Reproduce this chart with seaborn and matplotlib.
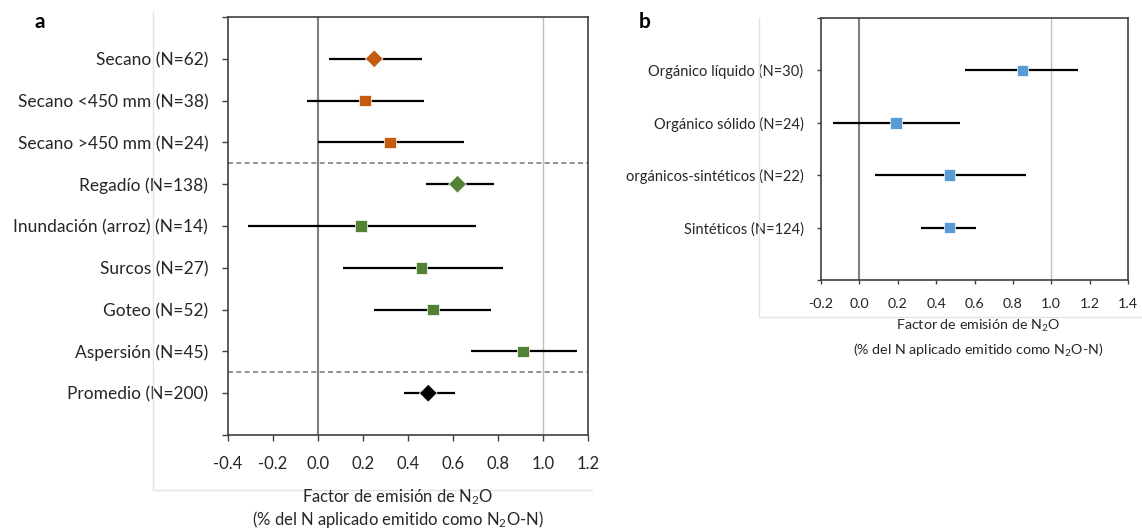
import numpy as np
import pandas as pd
import matplotlib.pyplot as plt
from matplotlib.lines import Line2D
import seaborn as sns

# --- datos panel a (sistema de riego) ---
cats_a = ['Secano (N=62)', 'Secano <450 mm (N=38)', 'Secano >450 mm (N=24)',
          'Regadío (N=138)', 'Inundación (arroz) (N=14)', 'Surcos (N=27)',
          'Goteo (N=52)', 'Aspersión (N=45)', 'Promedio (N=200)']
ef_a = [0.25, 0.21, 0.32, 0.62, 0.19, 0.46, 0.51, 0.91, 0.49]
lo_a = [0.05, -0.05, 0.00, 0.48, -0.31, 0.11, 0.25, 0.68, 0.38]
hi_a = [0.46, 0.47, 0.65, 0.78, 0.70, 0.82, 0.77, 1.15, 0.61]
grupo_a = ['secano', 'secano', 'secano', 'regadio', 'regadio', 'regadio',
           'regadio', 'regadio', 'promedio']
forma_a = ['D', 's', 's', 'D', 's', 's', 's', 's', 'D']

# --- datos panel b (tipo de fertilizante) ---
cats_b = ['Orgánico líquido (N=30)', 'Orgánico sólido (N=24)',
          'orgánicos-sintéticos (N=22)', 'Sintéticos (N=124)']
ef_b = [0.85, 0.19, 0.47, 0.47]
lo_b = [0.55, -0.135, 0.08, 0.32]
hi_b = [1.14, 0.525, 0.87, 0.61]
grupo_b = ['fert'] * 4
forma_b = ['s'] * 4

colores = {'secano': '#C55A11', 'regadio': '#548235', 'promedio': 'black',
           'fert': '#5B9BD5'}
tamanos = {'s': 70, 'D': 82}

sns.set_style('white')
plt.rcParams['font.family'] = ['Lato', 'DejaVu Sans']
plt.rcParams['mathtext.fontset'] = 'custom'
plt.rcParams['mathtext.rm'] = 'Lato'
plt.rcParams['mathtext.it'] = 'Lato'
plt.rcParams['text.color'] = '#262626'

W, H = 1142, 529
fig = plt.figure(figsize=(W / 100, H / 100), dpi=100)


def px_axes(x0, y0, x1, y1):
    return fig.add_axes([x0 / W, 1 - y1 / H, (x1 - x0) / W, (y1 - y0) / H])


def forest(ax, cats, ef, lo, hi, grupo, forma, xlim, fs, yfs, tlen, ypad, xpad):
    df = pd.DataFrame({'cat': cats, 'ef': ef, 'lo': lo, 'hi': hi,
                       'grupo': grupo, 'forma': forma})
    df['pos'] = np.arange(1, len(df) + 1)
    ax.axvline(0, color='#808080', lw=1.5, zorder=1)
    ax.axvline(1.0, color='#BFBFBF', lw=1.0, zorder=1)
    ax.hlines(df['pos'], df['lo'], df['hi'], color='black', lw=1.6, zorder=2)
    for f in ['s', 'D']:
        sub = df[df['forma'] == f]
        if len(sub) == 0:
            continue
        sns.scatterplot(data=sub, x='ef', y='pos', hue='grupo', palette=colores,
                        marker=f, s=tamanos[f], edgecolor='white', linewidth=0.5,
                        legend=False, ax=ax, zorder=3)
    ticks = np.arange(xlim[0], xlim[1] + 0.01, 0.2)
    ax.set_xlim(*xlim)
    ax.set_ylim(len(df) + 1, 0)
    ax.set_xticks(ticks)
    ax.set_xticklabels([f'{v:.1f}' for v in ticks])
    ax.set_yticks(df['pos'])
    ax.set_yticklabels(df['cat'])
    ax.set_yticks([0, len(df) + 1], minor=True)
    ax.set_xlabel('')
    ax.set_ylabel('')
    for s in ax.spines.values():
        s.set_visible(True)
        s.set_color('#404040')
        s.set_linewidth(1.2)
    ax.tick_params(axis='y', which='both', length=tlen, width=1, color='#404040',
                   direction='out', pad=ypad, labelsize=yfs, left=True)
    ax.tick_params(axis='x', length=tlen, width=1, color='#404040',
                   direction='out', pad=xpad, labelsize=fs, bottom=True)
    return df


# panel a
ax_a = px_axes(228, 17, 588, 435)
forest(ax_a, cats_a, ef_a, lo_a, hi_a, grupo_a, forma_a, (-0.4, 1.2), 12, 12.5,
       4.3, 10, 10.5)
for yy in [3.5, 8.5]:
    ax_a.axhline(yy, color='#808080', lw=1.2, ls=(0, (3, 2)), zorder=1)

# panel b
ax_b = px_axes(821, 18, 1128, 280)
forest(ax_b, cats_b, ef_b, lo_b, hi_b, grupo_b, forma_b, (-0.2, 1.4), 10.3, 10.5,
       3, 9.6, 9.6)

# titulos de eje
fig.text(398 / W, 1 - 497 / H, 'Factor de emisión de N$_2$O', ha='center',
         va='center', fontsize=12)
fig.text(398 / W, 1 - 520 / H, '(% del N aplicado emitido como N$_2$O-N)',
         ha='center', va='center', fontsize=12)
fig.text(978 / W, 1 - 326 / H, 'Factor de emisión de N$_2$O', ha='center',
         va='center', fontsize=10.3)
fig.text(978 / W, 1 - 350 / H, '(% del N aplicado emitido como N$_2$O-N)',
         ha='center', va='center', fontsize=10.3)

# letras de panel
fig.text(40 / W, 1 - 22 / H, 'a', ha='center', va='center', fontsize=15,
         fontweight='bold', color='black')
fig.text(645 / W, 1 - 22 / H, 'b', ha='center', va='center', fontsize=15,
         fontweight='bold', color='black')

# bordes tenues del area de grafico
borde = '#E3E3E3'
fig.add_artist(Line2D([153 / W, 153 / W], [1 - 12 / H, 1 - 490 / H], color=borde, lw=1))
fig.add_artist(Line2D([153 / W, 592 / W], [1 - 490 / H, 1 - 490 / H], color=borde, lw=1))
fig.add_artist(Line2D([759 / W, 759 / W], [1 - 18 / H, 1 - 317 / H], color=borde, lw=1))
fig.add_artist(Line2D([759 / W, 1142 / W], [1 - 317 / H, 1 - 317 / H], color=borde, lw=1))

fig.savefig('out.png', dpi=100)
